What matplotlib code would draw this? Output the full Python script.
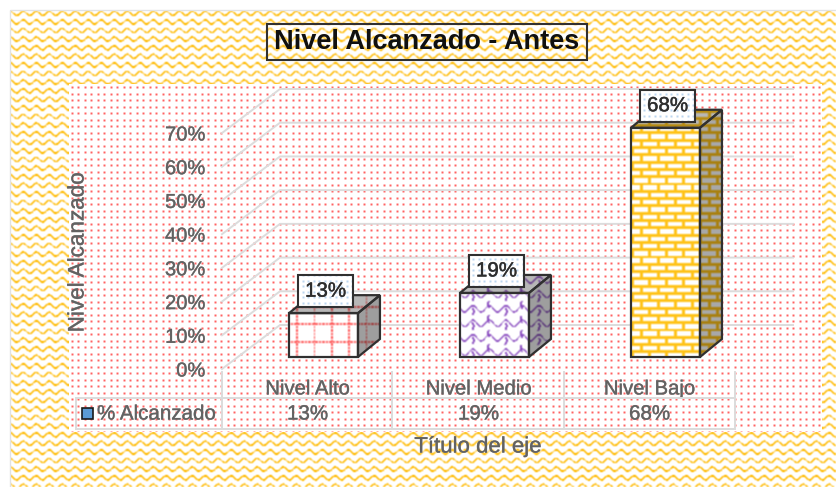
import numpy as np
import matplotlib
matplotlib.use("Agg")
import matplotlib.pyplot as plt
import matplotlib.patheffects as pe
from matplotlib.patches import Polygon, Rectangle
from matplotlib.transforms import Affine2D, IdentityTransform

categories = ["Nivel Alto", "Nivel Medio", "Nivel Bajo"]
values = [13, 19, 68]
value_labels = ["13%", "19%", "68%"]
yticks = [0, 10, 20, 30, 40, 50, 60, 70]
series_name = "% Alcanzado"
title = "Nivel Alcanzado - Antes"
xlabel = "Título del eje"
ylabel = "Nivel Alcanzado"

W, H = 836, 487
plt.rcParams["font.family"] = ["Liberation Sans", "DejaVu Sans"]
GRAY = "#626262"
LINE = "#dcdcdc"
SOFT = [pe.withStroke(linewidth=0.3, foreground="#808080")]

yy, xx = np.mgrid[0:H, 0:W].astype(float)


def blur(a, n=1):
    k = np.array([0.25, 0.5, 0.25])
    for _ in range(n):
        a = np.apply_along_axis(lambda r: np.convolve(r, k, mode="same"), 0, a)
        a = np.apply_along_axis(lambda r: np.convolve(r, k, mode="same"), 1, a)
    return a


def paint(mask, color, base=(1, 1, 1), gain=1.0):
    m = np.clip(blur(mask.astype(float)) * gain, 0, 1)[..., None]
    return (1 - m) * np.array(base) + m * np.array(color)


def rgb(h):
    return matplotlib.colors.to_rgb(h)


# textures
wave_d = (yy - 12 - 2.1 * np.sin(2 * np.pi * xx / 13)) % 8.6
wave = paint(wave_d < 1.7, rgb("#ffbf14"), gain=1.2)
dots = paint(((xx - 71.5) % 6.5 < 1.0) & ((yy - 87) % 6.5 < 1.0), rgb("#ff1010"), gain=2.6)
label_dots = paint(((xx % 5.5) < 1.0) & ((yy % 5.5) < 1.0), rgb("#6aa6dc"), gain=1.8)
grid_tex = paint((((xx - 296) % 17.3 < 1.6) & (yy % 3.5 < 2.2)) |
                 (((yy - 323) % 17.5 < 1.6) & (xx % 3.5 < 2.2)), rgb("#ff5a5a"))
row = np.floor((yy - 131) / 7.3)
shift = np.where(row % 2 == 0, 0, 8.5)
bx = (xx - 631 + shift) % 17
by = (yy - 131) % 7.3
brick = paint((bx < 2.6) | (by < 2.9), rgb("#ffc31a"))
cx = (xx - 460) % 16.5
cy = yy - 293
col = np.floor((xx - 460) / 16.5)
wv = (cy - 3.2 * np.sin(2 * np.pi * (xx - 460) / 16.5)) % 14.5
vy = (cy + 7 * col) % 14.5
vert = (np.abs(cx - 12 - 1.2 * np.sin(2 * np.pi * cy / 14.5)) < 1.0) & (vy < 7.5)
scale = paint((wv < 1.7) | vert, rgb("#8a4cc0"))

front_tex = [grid_tex, scale, brick]
face_shade = [0.62, 0.62, 0.66]
top_shade = [0.72, 0.72, 0.72]

fig = plt.figure(figsize=(W / 100, H / 100), dpi=100, facecolor="white")


def px_axes(z):
    a = fig.add_axes([0, 0, 1, 1], zorder=z)
    a.set_xlim(0, W)
    a.set_ylim(H, 0)
    a.axis("off")
    return a


bg = px_axes(0)
ext = (0, W, H, 0)
im_bg = bg.imshow(wave, extent=ext, aspect="auto", interpolation="nearest", zorder=1)
im_bg.set_clip_path(Rectangle((10, 10), W - 10, H - 10, transform=bg.transData))
bg.add_patch(Rectangle((9.5, 9.5), W, H, fc="none", ec="#e2e2e2", lw=1, zorder=2))
im_plot = bg.imshow(dots, extent=ext, aspect="auto", interpolation="nearest", zorder=3)
im_plot.set_clip_path(Rectangle((69, 84), 753, 348, transform=bg.transData))
bg.set_xlim(0, W)
bg.set_ylim(H, 0)

# chart axes: data coordinates, placed so 0% = y369 and 70% = y133
L, R, T, B = 222, 735, 133, 369
ax = fig.add_axes([L / W, 1 - B / H, (R - L) / W, (B - T) / H], zorder=1)
ax.set_xlim(-0.5, 2.5)
ax.set_ylim(0, 70)
ax.patch.set_visible(False)
for s in ax.spines.values():
    s.set_visible(False)
ax.set_yticks(yticks)
ax.set_yticklabels([f"{v}%" for v in yticks], fontsize=14.5, color=GRAY, path_effects=SOFT)
ax.tick_params(axis="y", length=0, pad=12)
ax.set_xticks(range(len(categories)))
ax.set_xticklabels(categories, fontsize=14.6, color=GRAY, path_effects=SOFT)
ax.tick_params(axis="x", length=0, pad=7.5)


def shifted(dx, dy):
    return ax.transData + Affine2D().translate(dx, dy)


# walls: gridlines run back from the axis then along the rear wall
back = shifted(58, 44)
for v in yticks:
    x0, y0 = ax.transData.transform((-0.5, v))
    x1, y1 = back.transform((-0.5, v))
    x2, y2 = back.transform((2.5, v))
    ax.plot([x0, x1, x2], [y0, y1, y2], color=LINE, lw=1.4, transform=IdentityTransform(),
            clip_on=False, zorder=1)

# bars
top = px_axes(2)
floor = (16, 12)
depth = np.array((22, 18))
BW = 0.403
for i, v in enumerate(values):
    f = shifted(*floor)
    corners = [(i - BW / 2, 0), (i + BW / 2, 0), (i + BW / 2, v), (i - BW / 2, v)]
    pts = f.transform(corners)
    side = np.array([pts[1], pts[1] + depth, pts[2] + depth, pts[2]])
    roof = np.array([pts[3], pts[2], pts[2] + depth, pts[3] + depth])
    tex = front_tex[i]
    for poly, arr in ((pts, tex),
                      (side, tex * face_shade[i]),
                      (roof, tex * top_shade[i])):
        im = top.imshow(arr, extent=ext, aspect="auto", interpolation="nearest", zorder=1)
        im.set_clip_path(Polygon(poly, closed=True, transform=IdentityTransform()))
        top.add_patch(Polygon(poly, closed=True, fc="none", ec="#303030", lw=1.6,
                              joinstyle="miter", transform=IdentityTransform(), zorder=2))
    # data label box
    cx_d = (pts[2][0] + pts[3][0]) / 2 + 2
    cy_d = pts[2][1] + 22
    bw, bh = 55, 32
    box = (cx_d - bw / 2, cy_d - bh / 2)
    im = top.imshow(label_dots, extent=ext, aspect="auto", interpolation="nearest", zorder=3)
    im.set_clip_path(Rectangle(box, bw, bh, transform=IdentityTransform()))
    top.add_patch(Rectangle(box, bw, bh, fc="none", ec="#303030", lw=1.5,
                            transform=IdentityTransform(), zorder=4))
    top.text(cx_d, cy_d, value_labels[i], transform=IdentityTransform(), ha="center",
             va="center", fontsize=14.8, color="#2e2e2e", zorder=5,
             path_effects=[pe.withStroke(linewidth=0.3, foreground="#2e2e2e")])
top.set_xlim(0, W)
top.set_ylim(H, 0)

# data table
for x in (222, 392, 564, 735):
    top.plot([x, x], [372, 429], color=LINE, lw=1.4, zorder=0.5)
top.plot([76, 76], [398, 429], color=LINE, lw=1.4, zorder=0.5)
top.plot([76, 735], [398, 398], color=LINE, lw=1.4, zorder=0.5)
top.plot([76, 735], [429, 429], color=LINE, lw=1.4, zorder=0.5)
top.add_patch(Rectangle((82, 408), 11, 11, fc="#5b9bd5", ec="#1a1a1a", lw=1.2, zorder=2))
top.text(97, 414, series_name, fontsize=14.8, color=GRAY, va="center", ha="left",
         path_effects=SOFT)
for i, lab in enumerate(value_labels):
    xd = ax.transData.transform((i, 0))[0]
    top.text(xd, 414, lab, fontsize=14.8, color=GRAY, va="center", ha="center",
             path_effects=SOFT)

top.text(478, 447, xlabel, fontsize=16, color=GRAY, va="center", ha="center", path_effects=SOFT)
top.text(78, 252, ylabel, fontsize=16.2, color=GRAY, va="center", ha="center", rotation=90,
         path_effects=SOFT)
top.add_patch(Rectangle((267, 24), 319.5, 35.5, fc="none", ec="#303030", lw=1.5, zorder=4))
top.text(427, 42, title, fontsize=19.5, fontweight="bold", color="#101010", va="center",
         ha="center", zorder=5)

fig.savefig("out.png", dpi=100, facecolor="white")
